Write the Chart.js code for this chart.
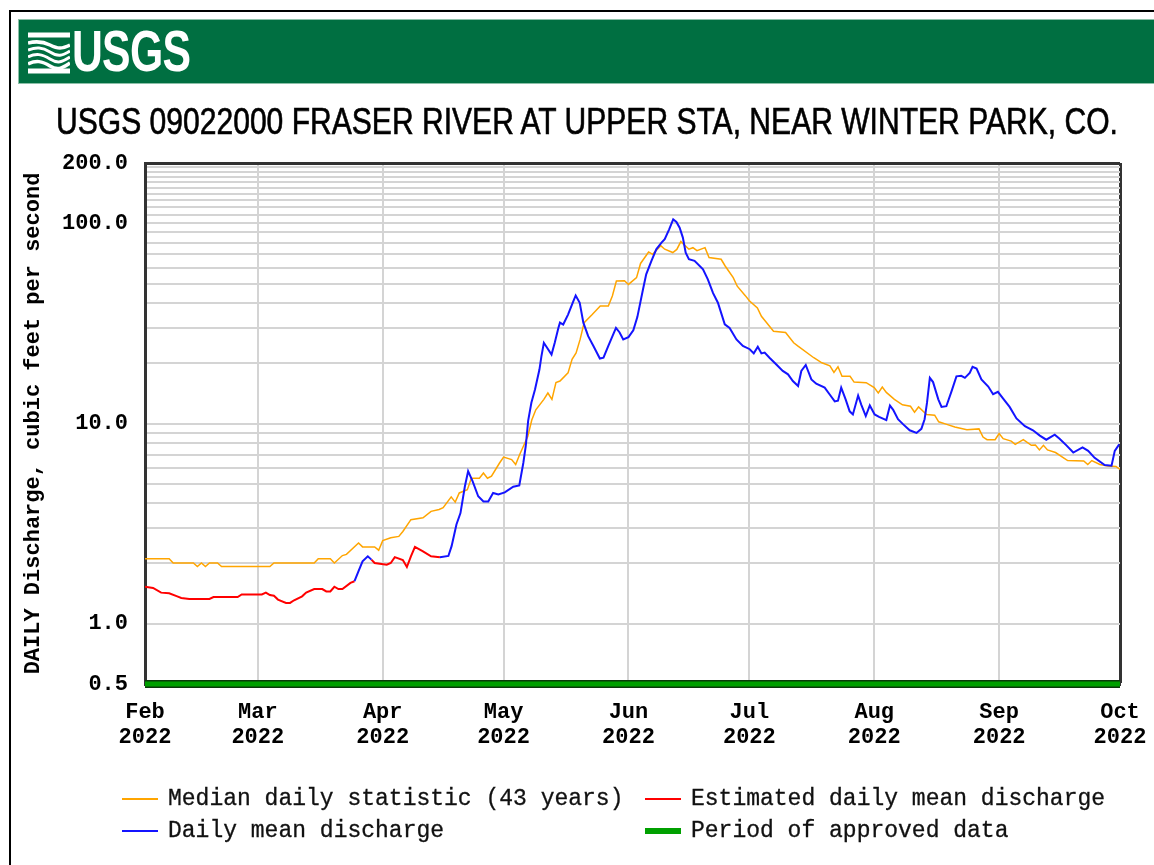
<!DOCTYPE html>
<html lang="en">
<head>
  <meta charset="UTF-8" />
  <title>USGS 09022000 Fraser River at Upper Sta</title>
  <script src="https://cdn.jsdelivr.net/npm/chart.js"></script>
  <style>
    body { margin: 0; background: #fff; }
    #wrap { position: relative; width: 1154px; height: 865px; overflow: hidden; }
    #frame { position: absolute; left: 9px; top: 10px; width: 1200px; height: 900px; border-left: 2px solid #000; border-top: 2px solid #000; }
    #header { position: absolute; left: 19px; top: 20px; width: 1140px; height: 63px; background: #006f41; box-shadow: 0 0 0 1px #8cc0a8; z-index: 2; }
    #logo { position: absolute; left: 9px; top: 12px; }
    #usgs { position: absolute; left: 53px; top: -2px; color: #fff; font: bold 57px "Liberation Sans Narrow", "Liberation Sans", sans-serif; transform: scaleX(0.75); transform-origin: left center; letter-spacing: -1px; }
    #title { position: absolute; left: -213px; top: 102px; width: 1600px; text-align: center; white-space: nowrap; font: 36px/40px "Liberation Sans", sans-serif; color: #000; -webkit-text-stroke: 0.6px #000; transform: scaleX(0.835); transform-origin: 800px 0; z-index: 2; }
    #chart { position: absolute; left: 0; top: 0; z-index: 1; }
    .item { position: absolute; height: 32px; display: flex; align-items: center; font: 23px "Liberation Mono", monospace; color: #111; -webkit-text-stroke: 0.3px #111; z-index: 2; white-space: pre; }
    .swatch { width: 36px; margin-right: 10px; }
  </style>
</head>
<body>
  <div id="wrap">
    <div id="frame"></div>
    <div id="header">
      <svg id="logo" width="42" height="42" viewBox="0 0 42 42">
        <g fill="none" stroke="#fff" stroke-linecap="butt">
          <path d="M0 3 H42" stroke-width="5"/>
          <path d="M0 11 C8 9 14 9 22 13 S34 17 42 13" stroke-width="3.5"/>
          <path d="M0 18 C8 15 14 15 22 20 S34 24 42 19" stroke-width="3"/>
          <path d="M0 25 C8 21 14 22 22 27 S34 30 42 25" stroke-width="3"/>
          <path d="M0 32 C8 28 14 29 22 34 S34 36 42 31" stroke-width="3.5"/>
          <path d="M0 39 H42" stroke-width="5"/>
        </g>
      </svg>
      <div id="usgs">USGS</div>
    </div>
    <div id="title">USGS 09022000 FRASER RIVER AT UPPER STA, NEAR WINTER PARK, CO.</div>
    <canvas id="chart" width="1154" height="865"></canvas>
    <div id="legend"></div>
  </div>

  <script>
    // days counted from 2022-02-01, discharge in cubic feet per second
    const monthTicks = [0, 28, 59, 89, 120, 150, 181, 212, 242];
    const monthLabels = ["Feb", "Mar", "Apr", "May", "Jun", "Jul", "Aug", "Sep", "Oct"];
    const tickYear = "2022";

    const yGridValues = [0.5, 1, 2, 3, 4, 5, 6, 7, 8, 9, 10, 20, 30, 40, 50, 60, 70, 80, 90,
      100, 110, 120, 130, 140, 150, 160, 170, 180, 190, 200];
    const yLabelValues = [0.5, 1, 10, 100, 200];

    const medianDays = [0, 6, 7, 12, 13, 14, 15, 16, 18, 19, 31, 32, 42, 43, 46, 47, 49, 50, 53, 54,
      57, 58, 59, 61, 63, 64, 66, 69, 71, 73, 74, 76, 77, 78, 80, 81, 83, 84, 85, 86,
      88, 89, 91, 92, 93, 95, 96, 97, 99, 100, 101, 102, 103, 105, 106, 107, 108, 109, 111, 113,
      115, 116, 117, 119, 120, 122, 123, 125, 126, 128, 129, 131, 132, 133, 135, 136, 137, 139, 140, 143,
      144, 146, 147, 149, 150, 152, 153, 154, 156, 159, 161, 162, 166, 168, 170, 171, 172, 173, 175, 176,
      179, 181, 182, 183, 184, 186, 188, 190, 191, 192, 194, 196, 197, 199, 201, 204, 207, 208, 209, 211,
      212, 213, 215, 216, 218, 220, 221, 222, 223, 224, 226, 229, 233, 234, 235, 237, 239, 241, 242];
    const medianCfs = [2.11, 2.11, 2.01, 2.01, 1.93, 2.01, 1.93, 2.01, 2.01, 1.93, 1.93, 2.01, 2.01, 2.11, 2.11, 2.01, 2.19, 2.22, 2.53, 2.42,
      2.42, 2.33, 2.6, 2.69, 2.73, 2.89, 3.31, 3.38, 3.64, 3.72, 3.8, 4.3, 4.05, 4.5, 4.67, 5.33, 5.33, 5.66, 5.33, 5.46,
      6.35, 6.8, 6.6, 6.24, 7.0, 8.6, 10.4, 11.7, 13.2, 14.2, 13.2, 16.0, 16.3, 17.9, 20.9, 22.5, 26.3, 31.9, 35.0, 38.6,
      38.6, 43.3, 51.5, 51.7, 49.5, 53.5, 63, 71.9, 70, 77.3, 74.2, 71.4, 74, 81.0, 74.2, 75.5, 73, 75.6, 67.4, 66.1,
      61.2, 53.5, 48.5, 43.5, 41, 37.8, 34.3, 32.4, 28.9, 28.5, 25.3, 24.4, 21.3, 20.1, 19.4, 18.0, 19.2, 17.2, 17.2, 16.1,
      16.0, 15.1, 14.2, 15.2, 14.3, 13.2, 12.4, 12.2, 11.4, 12.1, 11.1, 11.0, 10.2, 9.9, 9.6, 9.3, 9.4, 8.56, 8.3, 8.3,
      8.9, 8.4, 8.17, 7.86, 8.3, 7.78, 7.8, 7.38, 7.78, 7.38, 7.16, 6.53, 6.5, 6.24, 6.53, 6.24, 6.13, 6.1, 5.9];

    const estDays = [0, 2, 4, 6, 8, 9, 11, 16, 17, 23, 24, 29, 30, 31, 32, 33, 35, 36, 37, 39,
      40, 42, 44, 45, 46, 47, 48, 49, 51, 52, 54,
      56.2, 57, 60, 61, 62, 64, 65, 66, 67, 69, 71, 73.2];
    const estCfs = [1.53, 1.51, 1.43, 1.42, 1.37, 1.345, 1.33, 1.33, 1.36, 1.36, 1.40, 1.40, 1.43, 1.39, 1.38, 1.32, 1.27, 1.27, 1.31, 1.37,
      1.43, 1.49, 1.49, 1.45, 1.45, 1.53, 1.49, 1.49, 1.6, 1.63, null,
      2.09, 2.01, 1.97, 2.01, 2.15, 2.08, 1.92, 2.17, 2.42, 2.3, 2.17, 2.15];

    const dailyDays = [52, 53, 54, 55.3, 56.2, 60,
      73.2, 75.3, 76.1, 77.3, 78.3, 79.4, 80.2, 81.3, 82.7, 84, 85.2, 86.4, 87.7, 89.3,
      91.4, 92.9, 93.9, 94.5, 95.1, 95.9, 96.8, 97.9, 98.4, 99, 99.8, 100.9, 101.7, 102.6, 103, 103.8,
      105, 106.3, 106.9, 107.9, 108.8, 110, 111.3, 112.9, 113.8, 115, 116.9, 117.8, 118.7, 120, 121.2, 122.2,
      123.6, 124.4, 125.7, 126.9, 128.2, 129, 130.1, 131.1, 131.9, 132.7, 133.5, 134.2, 135, 136.4, 138.5, 139.7,
      141, 142.2, 143.9, 145.1, 146.8, 148.4, 150.1, 151.1, 152.1, 153, 153.8, 155, 156.7, 158.3, 159.6, 160.8,
      162.1, 162.9, 164, 165.4, 166.6, 168.7, 169.9, 171.2, 172, 172.8, 173.9, 174.9, 175.7, 177, 177.8, 178.9,
      179.9, 181.1, 182.2, 184, 184.9, 185.7, 186.9, 188.2, 189.8, 191.5, 192.7, 193.5, 194.1, 194.8, 195.6, 196.9,
      197.7, 198.9, 200.2, 201.4, 202.6, 203.5, 204.7, 205.4, 206.4, 207.6, 209.3, 210.5, 211.7, 213, 214.6, 216.3,
      218.4, 220.4, 222.1, 223.7, 225.8, 227, 228.7, 230.4, 232.7, 234.1, 235.7, 238.2, 239.9, 240.7, 241.8];
    const dailyCfs = [1.63, 1.83, 2.05, 2.17, 2.09, null,
      2.15, 2.18, 2.44, 3.13, 3.57, 4.86, 5.78, 5.15, 4.33, 4.08, 4.08, 4.5, 4.42, 4.53,
      4.83, 4.9, 6.35, 7.7, 10.3, 12.7, 14.8, 18.6, 21.7, 25.3, 23.9, 22.1, 25.3, 30.0, 31.9, 31.2,
      35, 40.7, 43.6, 40.1, 31.9, 27.3, 24.4, 21.1, 21.3, 24.4, 30.0, 28.5, 26.3, 27, 29.2, 34,
      46.7, 55.6, 64.9, 74.1, 80.0, 83.2, 93.3, 104.7, 101.5, 95.0, 84.8, 71.4, 66.1, 64.9, 58.9, 52.5,
      44.8, 40.1, 31.3, 30.0, 26.3, 24.4, 23.5, 22.4, 24.2, 22.4, 22.6, 21.3, 19.7, 18.3, 17.6, 16.3,
      15.4, 18.3, 19.6, 16.6, 15.8, 15.1, 14.0, 12.9, 13.0, 15.1, 13.2, 11.5, 11.1, 13.8, 12.4, 10.9,
      12.3, 11.1, 10.8, 10.4, 12.3, 11.7, 10.5, 9.9, 9.25, 8.97, 9.4, 10.5, 12.7, 16.9, 16.1, 13.2,
      12.1, 12.2, 14.5, 17.2, 17.3, 16.9, 17.9, 19.2, 18.8, 16.6, 15.3, 14, 14.4, 13.3, 12.1, 10.6,
      9.7, 9.25, 8.7, 8.3, 8.8, 8.4, 7.78, 7.16, 7.6, 7.3, 6.74, 6.2, 6.15, 7.3, 7.86];

    const approvedDays = [0, 242];
    const approvedCfs = [0.5, 0.5];

    const monoFont = "'Liberation Mono', 'DejaVu Sans Mono', monospace";

    function toPoints(days, values) {
      return days.map((d, i) => ({ x: d, y: values[i] }));
    }

    const series = [
      { label: "Median daily statistic (43 years)", days: medianDays, cfs: medianCfs, color: "#ffa500", width: 1.5, order: 5 },
      { label: "Estimated daily mean discharge", days: estDays, cfs: estCfs, color: "#ff0000", width: 2, order: 4 },
      { label: "Daily mean discharge", days: dailyDays, cfs: dailyCfs, color: "#1414ff", width: 2, order: 3 },
      { label: "Period of approved data", days: approvedDays, cfs: approvedCfs, color: "#00a000", width: 5, order: 1 }
    ];

    const datasets = series.map(s => ({
      label: s.label,
      data: toPoints(s.days, s.cfs),
      borderColor: s.color,
      borderWidth: s.width,
      order: s.order,
      pointRadius: 0,
      tension: 0,
      spanGaps: false,
      clip: s.days === approvedDays ? false : undefined
    }));
    // dark edge under the approved-data band
    datasets.push({
      label: "",
      data: toPoints(approvedDays, approvedCfs),
      borderColor: "#0b3a0b",
      borderWidth: 8,
      order: 2,
      pointRadius: 0,
      clip: false
    });

    const gridColor = "#d4d4d4";
    const frameColor = "#333";

    new Chart(document.getElementById("chart"), {
      type: "line",
      data: { datasets: datasets },
      options: {
        responsive: false,
        animation: false,
        devicePixelRatio: 1,
        events: [],
        layout: { padding: { left: 12, top: 163, right: 34, bottom: 0 } },
        plugins: {
          legend: { display: false },
          tooltip: { enabled: false },
          title: { display: false }
        },
        scales: {
          x: {
            type: "linear",
            min: 0,
            max: 242,
            afterBuildTicks: scale => { scale.ticks = monthTicks.map(v => ({ value: v })); },
            afterFit: scale => {
              scale.height = 181;
              // labels may hang past the plot edge, keep the plot width fixed
              scale.paddingLeft = 0;
              scale.paddingRight = 0;
            },
            ticks: {
              autoSkip: false,
              maxRotation: 0,
              padding: 15,
              color: "#000",
              font: { family: monoFont, size: 22, weight: "bold", lineHeight: 1.18 },
              callback: (value, index) => [monthLabels[index], tickYear]
            },
            grid: {
              drawTicks: false,
              color: ctx => ctx.tick && ctx.tick.value === 242 ? frameColor : gridColor,
              lineWidth: ctx => ctx.tick && ctx.tick.value === 242 ? 3 : 2
            },
            border: { display: true, color: frameColor, width: 3 }
          },
          y: {
            type: "logarithmic",
            min: 0.5,
            max: 200,
            afterBuildTicks: scale => { scale.ticks = yGridValues.map(v => ({ value: v })); },
            afterFit: scale => { scale.width = 133; },
            ticks: {
              autoSkip: false,
              padding: 17,
              color: "#000",
              font: { family: monoFont, size: 22, weight: "bold" },
              callback: value => yLabelValues.includes(value) ? value.toFixed(1) : ""
            },
            grid: {
              drawTicks: false,
              color: ctx => ctx.tick && ctx.tick.value === 200 ? frameColor : gridColor,
              lineWidth: ctx => ctx.tick && ctx.tick.value === 200 ? 3 : 2
            },
            border: { display: true, color: frameColor, width: 3 },
            title: {
              display: true,
              text: "DAILY Discharge, cubic feet per second",
              color: "#000",
              font: { family: monoFont, size: 22, weight: "bold" },
              padding: { top: 8, bottom: 0 }
            }
          }
        }
      }
    });

    // legend laid out in two columns like the USGS plot
    const legend = document.getElementById("legend");
    const legendSlots = [
      { left: 122, top: 783 }, { left: 645, top: 783 },
      { left: 122, top: 815 }, { left: 645, top: 815 }
    ];
    series.forEach((s, i) => {
      const item = document.createElement("div");
      item.className = "item";
      item.style.left = legendSlots[i].left + "px";
      item.style.top = legendSlots[i].top + "px";
      const sw = document.createElement("span");
      sw.className = "swatch";
      sw.style.height = (s.width >= 5 ? 6 : 2) + "px";
      sw.style.background = s.color;
      item.appendChild(sw);
      item.appendChild(document.createTextNode(s.label));
      legend.appendChild(item);
    });
  </script>
</body>
</html>
